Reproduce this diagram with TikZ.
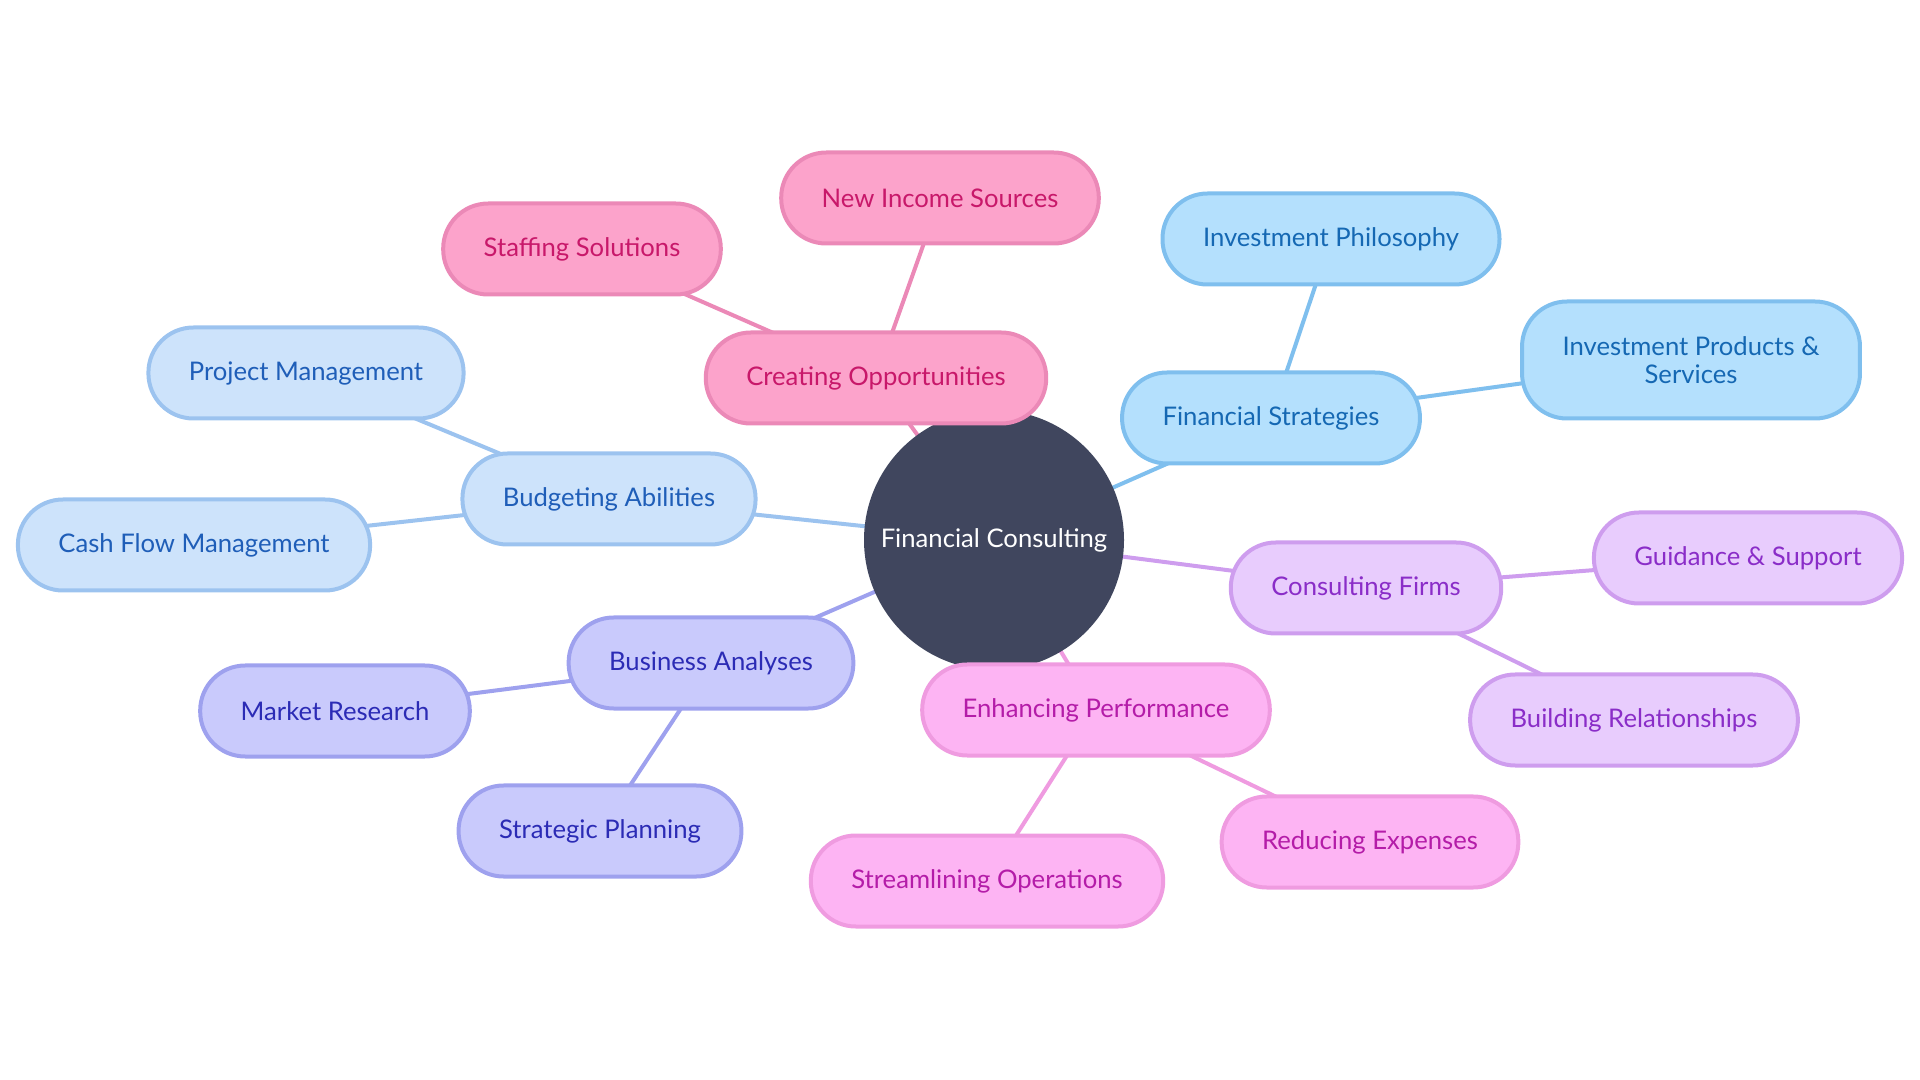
\documentclass[tikz,border=0pt]{standalone}
\usepackage{fontspec}
\setmainfont{Lato}
\usepackage{tikz}
\usetikzlibrary{backgrounds}

\definecolor{hubfill}{HTML}{40465E}
\definecolor{pinkfill}{HTML}{FCA3CB}\definecolor{pinkline}{HTML}{EB89B7}\definecolor{pinktext}{HTML}{C8186A}
\definecolor{skyfill}{HTML}{B4E0FD}\definecolor{skyline}{HTML}{7FBFEE}\definecolor{skytext}{HTML}{1568B3}
\definecolor{palefill}{HTML}{CDE3FB}\definecolor{paleline}{HTML}{9CC3EF}\definecolor{paletext}{HTML}{1F5EB8}
\definecolor{perifill}{HTML}{C9CAFC}\definecolor{periline}{HTML}{9EA1EE}\definecolor{peritext}{HTML}{2B2BB5}
\definecolor{magfill}{HTML}{FDB4F3}\definecolor{magline}{HTML}{EF9BE0}\definecolor{magtext}{HTML}{B41CA8}
\definecolor{lavfill}{HTML}{E8CCFD}\definecolor{lavline}{HTML}{CE9DEE}\definecolor{lavtext}{HTML}{8A2DC8}

\tikzset{
  leaf/.style={rounded corners=9mm, line width=0.8mm, inner xsep=8.1mm,
    minimum height=18.2mm, align=center, font=\fontsize{14.6}{15.6}\selectfont},
  pinkbox/.style={leaf, draw=pinkline, fill=pinkfill, text=pinktext},
  skybox/.style={leaf, draw=skyline, fill=skyfill, text=skytext},
  palebox/.style={leaf, draw=paleline, fill=palefill, text=paletext},
  peribox/.style={leaf, draw=periline, fill=perifill, text=peritext},
  magbox/.style={leaf, draw=magline, fill=magfill, text=magtext},
  lavbox/.style={leaf, draw=lavline, fill=lavfill, text=lavtext},
  link/.style={line width=0.8mm}
}

\begin{document}
\begin{tikzpicture}[x=0.2mm, y=-0.2mm]

\useasboundingbox (0,0) rectangle (1920,1080);

%%% --- Hub --- %%%
\node[circle, fill=hubfill, text=white, minimum size=52mm, inner sep=0pt,
  font=\fontsize{14.6}{15.6}\selectfont] (hub) at (994,540) {Financial Consulting};

%%% --- Creating Opportunities --- %%%
\node[pinkbox] (opp) at (876,378) {Creating Opportunities};
\node[pinkbox] (income) at (940,198) {New Income Sources};
\node[pinkbox] (staff) at (582,249) {Staffing Solutions};

%%% --- Financial Strategies --- %%%
\node[skybox] (strat) at (1271,418) {Financial Strategies};
\node[skybox] (philo) at (1331,239) {Investment Philosophy};
\node[skybox, minimum height=23.4mm] (prod) at (1691,360) {Investment Products \&\\Services};

%%% --- Budgeting Abilities --- %%%
\node[palebox] (budget) at (609,499) {Budgeting Abilities};
\node[palebox] (project) at (306,373) {Project Management};
\node[palebox] (cash) at (194,545) {Cash Flow Management};

%%% --- Business Analyses --- %%%
\node[peribox] (analyses) at (711,663) {Business Analyses};
\node[peribox] (market) at (335,711) {Market Research};
\node[peribox] (plan) at (600,831) {Strategic Planning};

%%% --- Enhancing Performance --- %%%
\node[magbox] (perf) at (1096,710) {Enhancing Performance};
\node[magbox] (stream) at (987,881) {Streamlining Operations};
\node[magbox] (reduce) at (1370,842) {Reducing Expenses};

%%% --- Consulting Firms --- %%%
\node[lavbox] (firms) at (1366,588) {Consulting Firms};
\node[lavbox] (guide) at (1748,558) {Guidance \& Support};
\node[lavbox] (relate) at (1634,720) {Building Relationships};

%%% --- Links (behind the boxes) --- %%%
\begin{pgfonlayer}{background}
  \draw[link, pinkline] (hub.center) -- (opp.center);
  \draw[link, pinkline] (opp.center) -- (income.center);
  \draw[link, pinkline] (opp.center) -- (staff.center);

  \draw[link, skyline] (hub.center) -- (strat.center);
  \draw[link, skyline] (strat.center) -- (philo.center);
  \draw[link, skyline] (strat.center) -- (prod.center);

  \draw[link, paleline] (hub.center) -- (budget.center);
  \draw[link, paleline] (budget.center) -- (project.center);
  \draw[link, paleline] (budget.center) -- (cash.center);

  \draw[link, periline] (hub.center) -- (analyses.center);
  \draw[link, periline] (analyses.center) -- (market.center);
  \draw[link, periline] (analyses.center) -- (plan.center);

  \draw[link, magline] (hub.center) -- (perf.center);
  \draw[link, magline] (perf.center) -- (stream.center);
  \draw[link, magline] (perf.center) -- (reduce.center);

  \draw[link, lavline] (hub.center) -- (firms.center);
  \draw[link, lavline] (firms.center) -- (guide.center);
  \draw[link, lavline] (firms.center) -- (relate.center);
\end{pgfonlayer}

\end{tikzpicture}
\end{document}
